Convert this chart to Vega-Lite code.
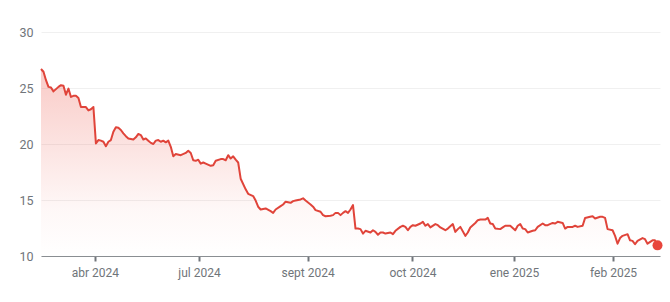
{
  "$schema": "https://vega.github.io/schema/vega-lite/v6.json",
  "width": 619,
  "height": 224,
  "autosize": {"type": "none"},
  "padding": {"left": 41, "top": 32, "right": 10, "bottom": 46},
  "background": "white",
  "config": {"view": {"stroke": null}, "font": "Roboto"},
  "data": {"values": [
    {"t":0,"p":26.7},{"t":1,"p":26.45},{"t":2,"p":25.7},{"t":3,"p":25.1},{"t":4,"p":25.05},{"t":5,"p":24.7},{"t":6,"p":24.9},{"t":7,"p":25.1},{"t":8,"p":25.25},{"t":9,"p":25.2},
    {"t":10,"p":24.4},{"t":11,"p":24.95},{"t":12,"p":24.2},{"t":13,"p":24.3},{"t":14,"p":24.3},{"t":15,"p":24.1},{"t":16,"p":23.3},{"t":17,"p":23.3},{"t":18,"p":23.3},{"t":19,"p":23.0},
    {"t":20,"p":23.1},{"t":21,"p":23.3},{"t":22,"p":20.05},{"t":23,"p":20.35},{"t":24,"p":20.3},{"t":25,"p":20.2},{"t":26,"p":19.8},{"t":27,"p":20.2},{"t":28,"p":20.35},{"t":29,"p":21.1},
    {"t":30,"p":21.5},{"t":31,"p":21.45},{"t":32,"p":21.25},{"t":33,"p":20.95},{"t":34,"p":20.7},{"t":35,"p":20.5},{"t":37,"p":20.4},{"t":38,"p":20.6},{"t":39,"p":20.9},
    {"t":40,"p":20.8},{"t":41,"p":20.4},{"t":42,"p":20.5},{"t":43,"p":20.3},{"t":44,"p":20.1},{"t":45,"p":20.0},{"t":46,"p":20.3},{"t":47,"p":20.35},{"t":48,"p":20.2},{"t":49,"p":20.3},
    {"t":50,"p":20.15},{"t":51,"p":20.3},{"t":52,"p":19.75},{"t":53,"p":18.9},{"t":54,"p":19.1},{"t":56,"p":19.0},{"t":58,"p":19.2},{"t":59,"p":19.4},
    {"t":60,"p":19.2},{"t":61,"p":18.55},{"t":62,"p":18.5},{"t":63,"p":18.6},{"t":64,"p":18.25},{"t":65,"p":18.35},{"t":66,"p":18.25},{"t":68,"p":18.05},{"t":69,"p":18.1},
    {"t":70,"p":18.5},{"t":72,"p":18.65},{"t":73,"p":18.65},{"t":74,"p":18.55},{"t":75,"p":19.0},{"t":76,"p":18.7},{"t":77,"p":18.9},{"t":78,"p":18.6},{"t":79,"p":18.35},
    {"t":80,"p":16.9},{"t":82,"p":15.95},{"t":83,"p":15.55},{"t":85,"p":15.35},{"t":86,"p":14.95},{"t":87,"p":14.4},{"t":88,"p":14.15},
    {"t":90,"p":14.25},{"t":92,"p":14.0},{"t":93,"p":13.85},{"t":94,"p":14.15},{"t":96,"p":14.45},{"t":97,"p":14.6},{"t":98,"p":14.85},
    {"t":100,"p":14.75},{"t":101,"p":14.9},{"t":102,"p":14.95},{"t":104,"p":15.05},{"t":105,"p":15.15},{"t":106,"p":14.95},{"t":108,"p":14.6},{"t":109,"p":14.4},
    {"t":110,"p":14.1},{"t":112,"p":13.95},{"t":113,"p":13.65},{"t":114,"p":13.55},{"t":116,"p":13.6},{"t":117,"p":13.65},{"t":118,"p":13.85},{"t":119,"p":13.85},
    {"t":120,"p":13.65},{"t":121,"p":13.85},{"t":122,"p":14.0},{"t":123,"p":13.85},{"t":124,"p":14.15},{"t":125,"p":14.55},{"t":126,"p":12.45},{"t":127,"p":12.45},{"t":128,"p":12.4},{"t":129,"p":12.0},
    {"t":130,"p":12.25},{"t":132,"p":12.1},{"t":133,"p":12.3},{"t":134,"p":12.15},{"t":135,"p":11.9},{"t":136,"p":12.1},{"t":137,"p":12.1},{"t":138,"p":12.0},
    {"t":140,"p":12.1},{"t":141,"p":11.95},{"t":142,"p":12.25},{"t":144,"p":12.6},{"t":145,"p":12.7},{"t":146,"p":12.6},{"t":147,"p":12.3},{"t":148,"p":12.6},{"t":149,"p":12.75},
    {"t":150,"p":12.7},{"t":152,"p":12.9},{"t":153,"p":13.05},{"t":154,"p":12.7},{"t":155,"p":12.85},{"t":156,"p":12.55},{"t":158,"p":12.85},{"t":159,"p":12.75},
    {"t":160,"p":12.55},{"t":162,"p":12.3},{"t":163,"p":12.45},{"t":165,"p":12.85},{"t":166,"p":12.15},{"t":167,"p":12.4},{"t":168,"p":12.6},
    {"t":170,"p":11.8},{"t":171,"p":12.1},{"t":172,"p":12.55},{"t":174,"p":12.95},{"t":175,"p":13.2},{"t":176,"p":13.25},{"t":178,"p":13.25},{"t":179,"p":13.4},
    {"t":180,"p":12.9},{"t":181,"p":12.85},{"t":182,"p":12.45},{"t":184,"p":12.4},{"t":185,"p":12.55},{"t":186,"p":12.7},{"t":188,"p":12.7},
    {"t":190,"p":12.3},{"t":191,"p":12.7},{"t":192,"p":12.85},{"t":193,"p":12.45},{"t":194,"p":12.4},{"t":195,"p":12.1},{"t":197,"p":12.25},{"t":198,"p":12.3},{"t":199,"p":12.6},
    {"t":201,"p":12.9},{"t":202,"p":12.75},{"t":203,"p":12.75},{"t":205,"p":12.95},{"t":206,"p":12.9},{"t":207,"p":13.05},{"t":209,"p":12.95},
    {"t":210,"p":12.45},{"t":211,"p":12.6},{"t":213,"p":12.6},{"t":214,"p":12.7},{"t":215,"p":12.6},{"t":217,"p":12.7},{"t":218,"p":13.4},
    {"t":220,"p":13.5},{"t":221,"p":13.55},{"t":222,"p":13.35},{"t":224,"p":13.5},{"t":225,"p":13.5},{"t":226,"p":13.4},{"t":227,"p":12.4},{"t":229,"p":12.3},
    {"t":230,"p":11.8},{"t":231,"p":11.1},{"t":232,"p":11.6},{"t":233,"p":11.8},{"t":235,"p":11.95},{"t":236,"p":11.4},{"t":237,"p":11.35},{"t":238,"p":11.05},{"t":239,"p":11.35},
    {"t":241,"p":11.6},{"t":242,"p":11.5},{"t":243,"p":11.1},{"t":245,"p":11.4},{"t":246,"p":11.4},{"t":247,"p":10.95}
  ]},
  "encoding": {
    "x": {
      "field": "t", "type": "quantitative",
      "scale": {"domain": [0, 248], "nice": false, "zero": false},
      "axis": {
        "title": null, "grid": false,
        "values": [21.6, 63.3, 106.8, 148.8, 189.5, 229.2],
        "labelExpr": "datum.value < 40 ? 'abr 2024' : datum.value < 80 ? 'jul 2024' : datum.value < 120 ? 'sept 2024' : datum.value < 170 ? 'oct 2024' : datum.value < 210 ? 'ene 2025' : 'feb 2025'",
        "domainColor": "#8a8e92", "domainWidth": 1,
        "tickColor": "#70757a", "tickWidth": 2, "tickSize": 5,
        "labelColor": "#70757a", "labelFontSize": 12, "labelFont": "Roboto",
        "labelPadding": 6, "labelFlush": false
      }
    },
    "y": {
      "field": "p", "type": "quantitative",
      "scale": {"domain": [10, 30], "nice": false, "zero": false},
      "axis": {
        "title": null, "values": [10, 15, 20, 25, 30],
        "domain": false, "ticks": false,
        "gridColor": "#f0f0f0", "gridWidth": 1,
        "labelColor": "#70757a", "labelFontSize": 12.5, "labelFont": "Roboto",
        "labelPadding": 8
      }
    }
  },
  "layer": [
    {
      "mark": {
        "type": "area",
        "color": {
          "gradient": "linear", "x1": 0, "y1": 0, "x2": 0, "y2": 1,
          "stops": [
            {"offset": 0, "color": "rgba(234,67,53,0.28)"},
            {"offset": 0.75, "color": "rgba(234,67,53,0.04)"},
            {"offset": 1, "color": "rgba(234,67,53,0)"}
          ]
        }
      },
      "encoding": {"y2": {"datum": 10}}
    },
    {
      "mark": {"type": "line", "color": "#e0443a", "strokeWidth": 2, "strokeJoin": "round"}
    },
    {
      "transform": [{"filter": "datum.t == 247"}],
      "mark": {"type": "point", "filled": true, "opacity": 1, "color": "#e8453c", "size": 100}
    }
  ]
}
